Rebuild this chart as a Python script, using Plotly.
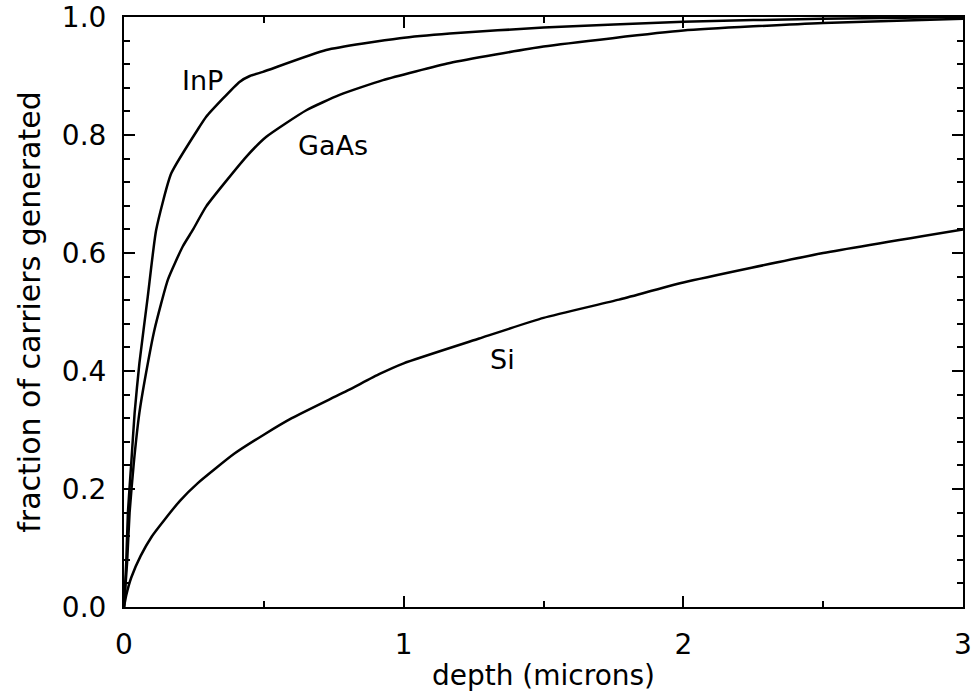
import plotly.graph_objects as go

# Depth (microns) and fraction of carriers generated
inp_x = [0, 0.008, 0.014, 0.026, 0.038, 0.055, 0.085, 0.115, 0.169, 0.27, 0.294, 0.413, 0.45, 0.497, 0.723, 0.986, 1.165, 1.5, 2.0, 2.5, 3.0]
inp_y = [0, 0.075, 0.16, 0.244, 0.329, 0.413, 0.526, 0.639, 0.735, 0.814, 0.831, 0.89, 0.9, 0.907, 0.944, 0.964, 0.972, 0.982, 0.992, 0.997, 1.0]

gaas_x = [0, 0.011, 0.020, 0.035, 0.055, 0.079, 0.109, 0.157, 0.21, 0.246, 0.294, 0.437, 0.509, 0.652, 0.771, 0.926, 1.165, 1.5, 2.0, 2.5, 3.0]
gaas_y = [0, 0.075, 0.16, 0.244, 0.329, 0.397, 0.47, 0.555, 0.611, 0.639, 0.679, 0.763, 0.797, 0.842, 0.868, 0.893, 0.922, 0.95, 0.977, 0.99, 0.997]

si_x = [0, 0.008, 0.026, 0.06, 0.1, 0.145, 0.2, 0.264, 0.395, 0.5, 0.6, 0.8, 0.914, 1.0, 1.27, 1.5, 1.77, 2.0, 2.5, 3.0]
si_y = [0, 0.02, 0.05, 0.087, 0.12, 0.148, 0.18, 0.21, 0.26, 0.292, 0.32, 0.367, 0.395, 0.413, 0.455, 0.49, 0.521, 0.55, 0.60, 0.64]

labels = ["InP", "GaAs", "Si"]
label_x = [0.28, 0.747, 1.355]
label_y = [0.893, 0.783, 0.419]

x_tickvals = [0, 1, 2, 3]
y_tickvals = [0.0, 0.2, 0.4, 0.6, 0.8, 1.0]

FONT = "DejaVu Sans"
FS = 28

fig = go.Figure()
for xs, ys in [(inp_x, inp_y), (gaas_x, gaas_y), (si_x, si_y)]:
    fig.add_trace(go.Scatter(x=xs, y=ys, mode="lines",
                             line=dict(color="black", width=2.5, shape="spline", smoothing=0.5),
                             showlegend=False, hoverinfo="skip"))

for t, lx, ly in zip(labels, label_x, label_y):
    fig.add_annotation(x=lx, y=ly, text=t, showarrow=False,
                       font=dict(family=FONT, size=27, color="black"))

axis_common = dict(
    showgrid=False, zeroline=False, showline=True, linecolor="black",
    linewidth=2, mirror="ticks", ticks="inside", tickcolor="black",
    tickwidth=2, ticklen=11, automargin=False,
    tickfont=dict(family=FONT, size=FS, color="black"),
)

fig.update_xaxes(range=[0, 3], tickvals=x_tickvals, ticktext=[str(v) for v in x_tickvals],
                 minor=dict(dtick=0.5, ticks="inside", ticklen=6, tickcolor="black", tickwidth=2),
                 title=dict(text="depth (microns)", font=dict(family=FONT, size=FS, color="black"), standoff=12),
                 ticklabelstandoff=11,
                 **axis_common)
fig.update_yaxes(range=[0, 1], tickvals=y_tickvals, tickformat=".1f",
                 minor=dict(dtick=0.04, tick0=0, ticks="inside", ticklen=6, tickcolor="black", tickwidth=2),
                 title=dict(text="fraction of carriers generated", font=dict(family=FONT, size=30, color="black"), standoff=12),
                 ticklabelstandoff=10,
                 **axis_common)

fig.update_layout(
    width=976, height=692,
    margin=dict(l=124, r=13, t=17, b=85, pad=0),
    plot_bgcolor="white", paper_bgcolor="white",
    font=dict(family=FONT, size=FS, color="black"),
)

fig.write_html("out.html")
